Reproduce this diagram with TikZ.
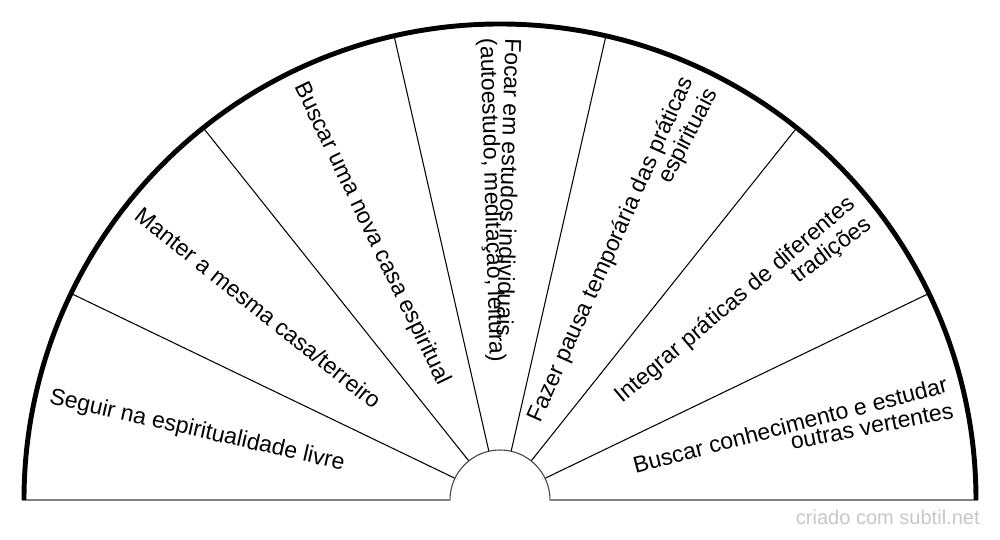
\documentclass[tikz,border=0pt]{standalone}
\usepackage{fontspec}
\setmainfont{Liberation Sans}

\begin{document}
\begin{tikzpicture}[x=0.02cm,y=0.02cm,
    leftlbl/.style={anchor=west,inner sep=0pt,font=\fontsize{13.1pt}{14pt}\selectfont},
    rightlbl/.style={anchor=east,inner sep=0pt,font=\fontsize{13.1pt}{14pt}\selectfont}]
                \useasboundingbox (-500,-40) rectangle (500,500);
                % sector borders
                \draw[line width=0.6pt] (25.714:50)--(25.714:476);
                \draw[line width=0.6pt] (51.429:50)--(51.429:476);
                \draw[line width=0.6pt] (77.143:50)--(77.143:476);
                \draw[line width=0.6pt] (102.857:50)--(102.857:476);
                \draw[line width=0.6pt] (128.571:50)--(128.571:476);
                \draw[line width=0.6pt] (154.286:50)--(154.286:476);
                \draw[black!75,line width=0.6pt] (50,0) arc (0:180:50);
                \draw[gray,line width=1.1pt] (-478,0)--(-50,0);
                \draw[gray,line width=1.1pt] (50,0)--(478,0);
                \draw[line width=2.8pt] (476,0) arc (0:180:476);
                % labels
                \node[leftlbl,rotate=-12.857] (seguir) at (167.143:462) {Seguir na espiritualidade livre};
                \node[leftlbl,rotate=-38.571] (manter) at (141.429:462) {Manter a mesma casa/terreiro};
                \node[leftlbl,rotate=-64.286] (novacasa) at (115.714:462) {Buscar uma nova casa espiritual};
                \node[leftlbl,rotate=-91.7] (focar) at (88.3:462) {Focar em estudos individuais};
                \node[leftlbl,rotate=-88.3] (autoestudo) at (91.7:462) {(autoestudo, meditação, leitura)};
                \node[rightlbl,rotate=65.986] (pausa) at (65.986:462) {Fazer pausa temporária das práticas};
                \node[rightlbl,rotate=62.586] (espirituais) at (62.586:462) {espirituais};
                \node[rightlbl,rotate=40.271] (integrar) at (40.271:462) {Integrar práticas de diferentes};
                \node[rightlbl,rotate=36.871] (tradicoes) at (36.871:462) {tradições};
                \node[rightlbl,rotate=14.557] (conhecimento) at (14.557:462) {Buscar conhecimento e estudar};
                \node[rightlbl,rotate=11.157] (vertentes) at (11.157:462) {outras vertentes};
                \node[black!22,anchor=base east,inner sep=0pt,font=\fontsize{11.4pt}{13pt}\selectfont] (marca) at (480,-25) {criado com subtil.net};
            \end{tikzpicture}
\end{document}
